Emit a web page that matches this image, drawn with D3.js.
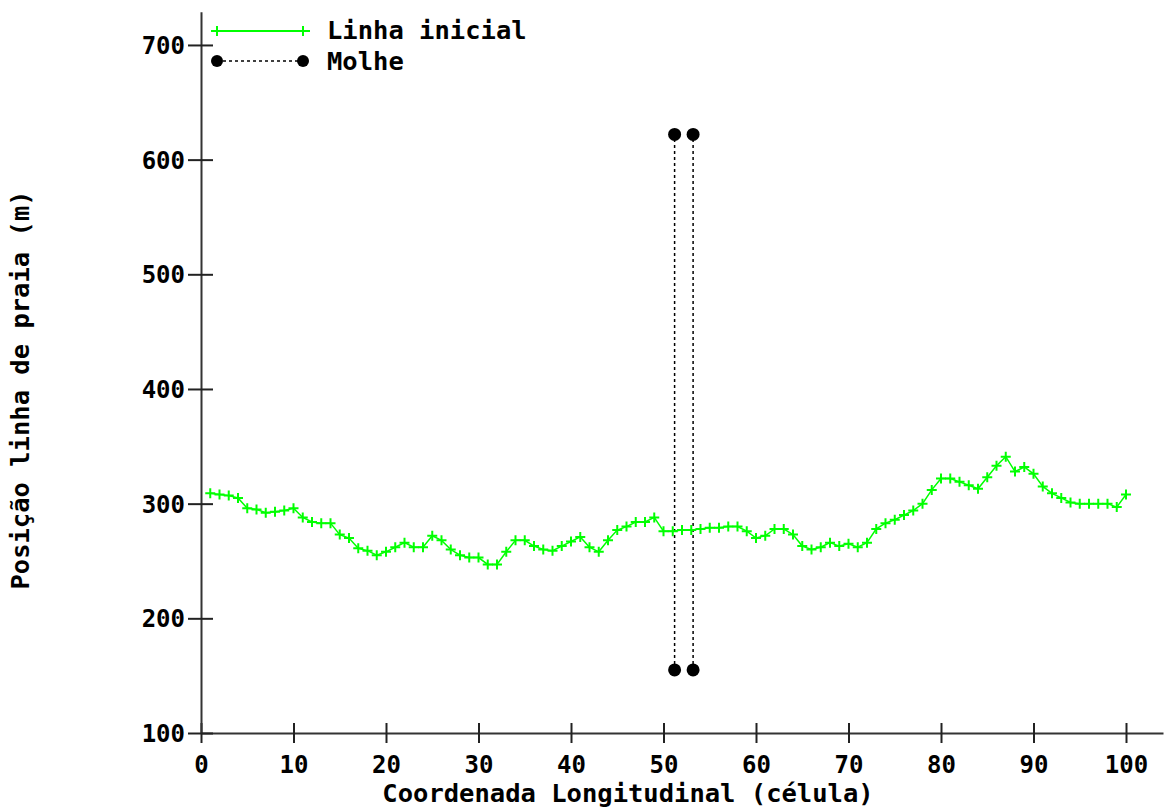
<!DOCTYPE html>
<html>
<head>
<meta charset="utf-8">
<script src="https://cdn.jsdelivr.net/npm/d3@7"></script>
<style>
  body { margin: 0; background: #fff; }
  text { font-family: "DejaVu Sans Mono", monospace; font-weight: bold; fill: #000; }
</style>
</head>
<body>
<div id="chart"></div>
<script>
// initial shoreline position per cell (m)
var cells = d3.range(1, 101);
var linhaInicial = [
  309, 308, 307, 305, 296, 295, 292, 293, 294, 296,
  288, 284, 283, 283, 273, 270, 261, 259, 255, 258,
  262, 266, 262, 262, 272, 268, 260, 255, 253, 253,
  247, 247, 258, 268, 268, 263, 260, 259, 263, 267,
  271, 262, 258, 268, 277, 280, 284, 284, 288, 276,
  276, 277, 277, 278, 279, 279, 280, 280, 276, 270,
  272, 278, 278, 273, 263, 260, 262, 266, 263, 265,
  262, 266, 278, 283, 286, 290, 294, 300, 312, 322,
  322, 319, 316, 313, 323, 333, 341, 328, 332, 326,
  315, 309, 305, 301, 300, 300, 300, 300, 297, 308
];

// groyne ("molhe") positions and extent
var molheX = [51.2, 53.2];
var molheY = [155, 622];

var xTicks = [0, 10, 20, 30, 40, 50, 60, 70, 80, 90, 100];
var yTicks = [100, 200, 300, 400, 500, 600, 700];

var width = 1165, height = 809;
var svg = d3.select("#chart").append("svg")
  .attr("width", width)
  .attr("height", height);

var x = d3.scaleLinear().domain([0, 104]).range([201, 1163]);
var y = d3.scaleLinear().domain([100, 729]).range([733, 11.7]);

//axes
var xAxis = svg.append("g")
  .attr("transform", "translate(0," + y(100) + ")")
  .call(d3.axisBottom(x).tickValues(xTicks).tickFormat(d3.format("d")).tickSizeOuter(0));
xAxis.select(".domain").attr("stroke", "#333").attr("stroke-width", 2);
xAxis.selectAll(".tick line").attr("y1", -10).attr("y2", 10).attr("stroke", "#222").attr("stroke-width", 2);
xAxis.selectAll(".tick text").attr("y", 0).attr("dy", 40).style("font-size", "24px");

var yAxis = svg.append("g")
  .attr("transform", "translate(" + x(0) + ",0)")
  .call(d3.axisLeft(y).tickValues(yTicks).tickFormat(d3.format("d")).tickSizeOuter(0));
yAxis.select(".domain").attr("stroke", "#333").attr("stroke-width", 2);
yAxis.selectAll(".tick line").attr("x1", -13).attr("x2", 12).attr("stroke", "#222").attr("stroke-width", 2);
yAxis.selectAll(".tick text").attr("x", -16).attr("dy", "0.36em").style("font-size", "24px");

svg.append("text")
  .attr("x", 628).attr("y", 802)
  .attr("text-anchor", "middle")
  .style("font-size", "25.5px")
  .text("Coordenada Longitudinal (célula)");

svg.append("text")
  .attr("transform", "translate(29,390) rotate(-90)")
  .attr("text-anchor", "middle")
  .style("font-size", "25.5px")
  .text("Posição linha de praia (m)");

//molhe
molheX.forEach(function(mx){
  svg.append("line")
    .attr("x1", x(mx)).attr("x2", x(mx))
    .attr("y1", y(molheY[0])).attr("y2", y(molheY[1]))
    .attr("stroke", "#000").attr("stroke-width", 1.5)
    .attr("stroke-dasharray", "3,3");
  molheY.forEach(function(my){
    svg.append("circle")
      .attr("cx", x(mx)).attr("cy", y(my)).attr("r", 6.5)
      .attr("fill", "#000");
  });
});

//initial line
var pts = cells.map(function(c, i){ return [c, linhaInicial[i]]; });
var line = d3.line()
  .x(function(d){ return x(d[0]); })
  .y(function(d){ return y(d[1]); });

svg.append("path")
  .datum(pts)
  .attr("d", line)
  .attr("fill", "none")
  .attr("stroke", "#00ff00")
  .attr("stroke-width", 1.5);

function plus(g, cx, cy){
  g.append("path")
    .attr("d", "M" + (cx - 5) + "," + cy + "H" + (cx + 5) + "M" + cx + "," + (cy - 5) + "V" + (cy + 5))
    .attr("stroke", "#00ff00")
    .attr("stroke-width", 2)
    .attr("fill", "none");
}
var markers = svg.append("g");
pts.forEach(function(d){ plus(markers, x(d[0]), y(d[1])); });

//legend
var legend = svg.append("g");
legend.append("line")
  .attr("x1", 211).attr("x2", 310).attr("y1", 31).attr("y2", 31)
  .attr("stroke", "#00ff00").attr("stroke-width", 2);
plus(legend, 217, 31);
plus(legend, 303, 31);
legend.append("text").attr("x", 327).attr("y", 39).style("font-size", "25.5px").text("Linha inicial");

legend.append("line")
  .attr("x1", 217).attr("x2", 303).attr("y1", 61).attr("y2", 61)
  .attr("stroke", "#000").attr("stroke-width", 1.5).attr("stroke-dasharray", "3,3");
legend.append("circle").attr("cx", 217).attr("cy", 61).attr("r", 6).attr("fill", "#000");
legend.append("circle").attr("cx", 303).attr("cy", 61).attr("r", 6).attr("fill", "#000");
legend.append("text").attr("x", 327).attr("y", 70).style("font-size", "25.5px").text("Molhe");
</script>
</body>
</html>
